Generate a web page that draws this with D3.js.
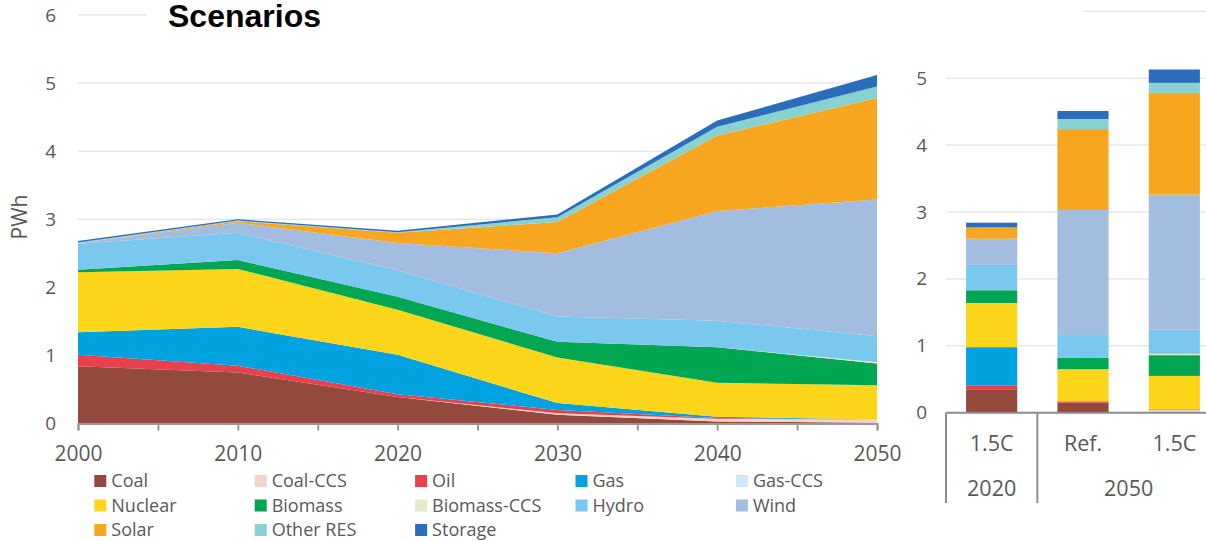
<!DOCTYPE html>
<html>
<head>
<meta charset="utf-8">
<script src="https://cdn.jsdelivr.net/npm/d3@7"></script>
<style>
  body { margin: 0; background: #fff; }
  text { font-family: "Open Sans", sans-serif; fill: #595959; }
</style>
</head>
<body>
<div id="chart"></div>
<script>
// data (PWh)
var years = [2000, 2010, 2020, 2030, 2040, 2050];
var sources = ["Coal", "Coal-CCS", "Oil", "Gas", "Gas-CCS", "Nuclear", "Biomass",
  "Biomass-CCS", "Hydro", "Wind", "Solar", "Other RES", "Storage"];
var colors = ["#93493c", "#f4d3c9", "#e8414d", "#00a3e0", "#d0e8f7", "#fdd51a", "#00a651",
  "#e5ebc9", "#7ac8ee", "#a3bde1", "#f8a61f", "#88d3d1", "#2a6ebb"];

var coal       = [0.84, 0.75, 0.39, 0.13, 0.03, 0.01];
var coalCCS    = [0, 0, 0, 0.02, 0.04, 0.05];
var oil        = [0.17, 0.10, 0.04, 0.05, 0.01, 0];
var gas        = [0.33, 0.57, 0.58, 0.10, 0.02, 0];
var gasCCS     = [0, 0, 0, 0, 0, 0];
var nuclear    = [0.88, 0.85, 0.66, 0.67, 0.50, 0.50];
var biomass    = [0.04, 0.13, 0.19, 0.23, 0.52, 0.32];
var biomassCCS = [0, 0, 0, 0, 0, 0.02];
var hydro      = [0.38, 0.40, 0.39, 0.37, 0.39, 0.38];
var wind       = [0.01, 0.15, 0.40, 0.93, 1.61, 2.01];
var solar      = [0, 0.02, 0.15, 0.46, 1.11, 1.49];
var otherRES   = [0.01, 0.01, 0.01, 0.07, 0.13, 0.17];
var storage    = [0.02, 0.02, 0.02, 0.04, 0.09, 0.17];

// scenario bars
var barScen  = ["1.5C", "Ref.", "1.5C"];
var barYears = ["2020", "2050", "2050"];
var bCoal       = [0.35, 0.15, 0.01];
var bCoalCCS    = [0, 0, 0.03];
var bOil        = [0.06, 0.02, 0.01];
var bGas        = [0.57, 0, 0];
var bGasCCS     = [0, 0, 0];
var bNuclear    = [0.66, 0.48, 0.50];
var bBiomass    = [0.19, 0.17, 0.31];
var bBiomassCCS = [0, 0, 0.02];
var bHydro      = [0.38, 0.34, 0.36];
var bWind       = [0.39, 1.87, 2.02];
var bSolar      = [0.17, 1.21, 1.52];
var bOtherRES   = [0, 0.15, 0.15];
var bStorage    = [0.07, 0.12, 0.20];

var yTicks = [0, 1, 2, 3, 4, 5, 6];

var areaSeries = [coal, coalCCS, oil, gas, gasCCS, nuclear, biomass, biomassCCS, hydro, wind, solar, otherRES, storage];
var barSeries = [bCoal, bCoalCCS, bOil, bGas, bGasCCS, bNuclear, bBiomass, bBiomassCCS, bHydro, bWind, bSolar, bOtherRES, bStorage];

var rows = years.map(function(yr, i) {
  var r = {year: yr};
  sources.forEach(function(s, k) { r[s] = areaSeries[k][i]; });
  return r;
});
var barRows = barScen.map(function(sc, i) {
  var r = {id: i, scen: sc, year: barYears[i]};
  sources.forEach(function(s, k) { r[s] = barSeries[k][i]; });
  return r;
});

var color = d3.scaleOrdinal().domain(sources).range(colors);
var stack = d3.stack().keys(sources);

var svg = d3.select("#chart").append("svg")
  .attr("width", 1206)
  .attr("height", 541);

// ---- left: area chart ----
var x = d3.scaleLinear().domain([2000, 2050]).range([78, 877]);
var y = d3.scaleLinear().domain([0, 6]).range([423.5, 15]);

svg.append("g").selectAll("line")
  .data(yTicks.slice(1))
  .enter().append("line")
  .attr("x1", x(2000)).attr("x2", x(2050))
  .attr("y1", function(d) { return y(d); })
  .attr("y2", function(d) { return y(d); })
  .attr("stroke", "#e8e8e8")
  .attr("stroke-width", 1.5);

svg.append("g").selectAll("path")
  .data(stack(rows))
  .enter().append("path")
  .attr("fill", function(d) { return color(d.key); })
  .attr("d", d3.area()
    .x(function(d) { return x(d.data.year); })
    .y0(function(d) { return y(d[0]); })
    .y1(function(d) { return y(d[1]); }));

var xAxis = d3.axisBottom(x)
  .tickValues(d3.range(2000, 2051, 5))
  .tickSize(7)
  .tickFormat(function(d) { return d % 10 == 0 ? d : ""; });

var gx = svg.append("g")
  .attr("transform", "translate(0," + y(0) + ")")
  .call(xAxis);
gx.select(".domain").attr("stroke", "#999").attr("stroke-width", 2);
gx.selectAll(".tick line").attr("stroke", "#999").attr("stroke-width", 2);
gx.selectAll(".tick text")
  .attr("y", 23)
  .attr("dy", "0.71em")
  .style("font-family", "Open Sans")
  .style("font-size", "21px");

var gy = svg.append("g")
  .attr("transform", "translate(" + x(2000) + ",0)")
  .call(d3.axisLeft(y).tickValues(yTicks).tickSize(0).tickPadding(22).tickFormat(d3.format("d")));
gy.select(".domain").remove();
gy.selectAll(".tick text")
  .style("font-family", "Open Sans")
  .style("font-size", "19px");

svg.append("text")
  .attr("transform", "translate(27,217) rotate(-90)")
  .attr("text-anchor", "middle")
  .style("font-size", "21px")
  .text("PWh");

// ---- right: scenario bars ----
var xb = d3.scaleBand().domain(barRows.map(function(d) { return d.id; }))
  .range([946, 1220]).paddingInner(0.44).paddingOuter(0.22);
var yb = d3.scaleLinear().domain([0, 6]).range([412.7, 11.3]);

svg.append("g").selectAll("line")
  .data(yTicks.slice(1))
  .enter().append("line")
  .attr("x1", 946).attr("x2", 1206)
  .attr("y1", function(d) { return yb(d); })
  .attr("y2", function(d) { return yb(d); })
  .attr("stroke", "#e8e8e8")
  .attr("stroke-width", 1.5);

svg.append("g").selectAll("g")
  .data(stack(barRows))
  .enter().append("g")
  .attr("fill", function(d) { return color(d.key); })
  .selectAll("rect")
  .data(function(d) { return d; })
  .enter().append("rect")
  .attr("x", function(d) { return xb(d.data.id); })
  .attr("width", xb.bandwidth())
  .attr("y", function(d) { return yb(d[1]); })
  .attr("height", function(d) { return yb(d[0]) - yb(d[1]); });

var gyb = svg.append("g")
  .attr("transform", "translate(946,0)")
  .call(d3.axisLeft(yb).tickValues(yTicks.slice(0, 6)).tickSize(0).tickPadding(19).tickFormat(d3.format("d")));
gyb.select(".domain").remove();
gyb.selectAll(".tick text")
  .style("font-family", "Open Sans")
  .style("font-size", "19px");

// two-level category axis
var step = xb.step();
var groups = [{label: "2020", from: 0, to: 1}, {label: "2050", from: 1, to: 3}];
function edge(i) { return xb(i) - step * xb.paddingInner() / 2; }

var ax = svg.append("g").attr("stroke", "#8c8c8c").attr("stroke-width", 2);
ax.append("line").attr("x1", 946).attr("x2", 1206).attr("y1", yb(0)).attr("y2", yb(0));
ax.selectAll(".div")
  .data([0, 1])
  .enter().append("line")
  .attr("x1", function(d) { return d == 0 ? 946 : edge(d); })
  .attr("x2", function(d) { return d == 0 ? 946 : edge(d); })
  .attr("y1", yb(0)).attr("y2", 503);

svg.append("g").selectAll("text")
  .data(barRows)
  .enter().append("text")
  .attr("x", function(d) { return xb(d.id) + xb.bandwidth() / 2; })
  .attr("y", 451)
  .attr("text-anchor", "middle")
  .style("font-size", "21.5px")
  .text(function(d) { return d.scen; });

svg.append("g").selectAll("text")
  .data(groups)
  .enter().append("text")
  .attr("x", function(d) { return (d.from == 0 ? 946 + edge(1) : edge(d.from) + 1220) / 2; })
  .attr("y", 496)
  .attr("text-anchor", "middle")
  .style("font-size", "21.5px")
  .text(function(d) { return d.label; });

// title sits on a white box that hides the top gridlines
svg.append("rect")
  .attr("x", 147).attr("y", 0)
  .attr("width", 936).attr("height", 32)
  .attr("fill", "#fff");
svg.append("text")
  .attr("x", 168)
  .attr("y", 27)
  .style("font-family", "'Liberation Sans', Arial, sans-serif")
  .style("font-weight", "bold")
  .style("font-size", "32px")
  .style("fill", "#000")
  .text("Scenarios");

// legend, 5 per row
var legend = svg.append("g").selectAll("g")
  .data(sources)
  .enter().append("g")
  .attr("transform", function(d, i) {
    return "translate(" + (94.3 + (i % 5) * 160.4) + "," + (475 + Math.floor(i / 5) * 24.5) + ")";
  });
legend.append("rect")
  .attr("width", 12).attr("height", 12)
  .attr("fill", function(d) { return color(d); });
legend.append("text")
  .attr("x", 17)
  .attr("y", 12)
  .style("font-size", "18px")
  .text(function(d) { return d; });
</script>
</body>
</html>
